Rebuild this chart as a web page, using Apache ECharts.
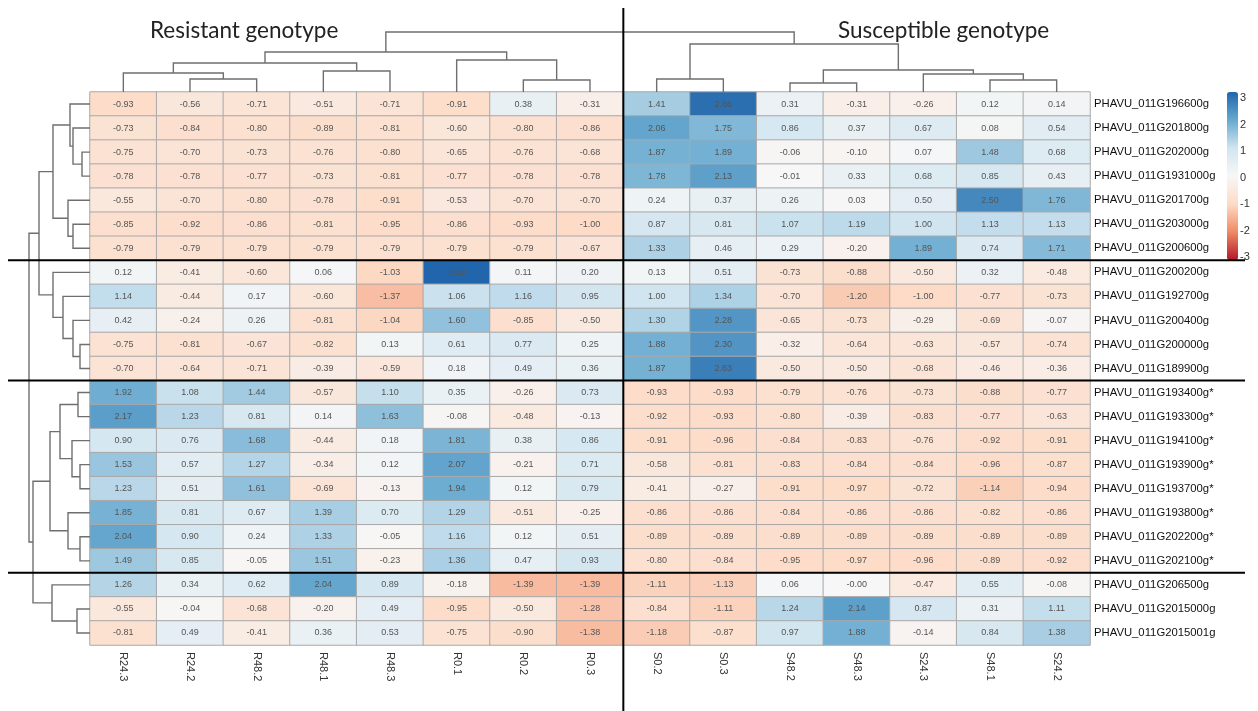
<!doctype html>
<html>
<head>
<meta charset="utf-8">
<title>heatmap</title>
<script src="https://cdn.jsdelivr.net/npm/echarts@6/dist/echarts.min.js"></script>
<style>
    html, body {margin: 0; padding: 0; background: #fff;}
    #main {width: 1258px; height: 711px;}
</style>
</head>
<body>
<div id="main"></div>
<script>
    // samples (columns) in dendrogram order
    var samples = ['R24.3', 'R24.2', 'R48.2', 'R48.1', 'R48.3', 'R0.1', 'R0.2', 'R0.3',
        'S0.2', 'S0.3', 'S48.2', 'S48.3', 'S24.3', 'S48.1', 'S24.2'];

    var genes = ['PHAVU_011G196600g', 'PHAVU_011G201800g', 'PHAVU_011G202000g', 'PHAVU_011G1931000g',
        'PHAVU_011G201700g', 'PHAVU_011G203000g', 'PHAVU_011G200600g',
        'PHAVU_011G200200g', 'PHAVU_011G192700g', 'PHAVU_011G200400g', 'PHAVU_011G200000g', 'PHAVU_011G189900g',
        'PHAVU_011G193400g*', 'PHAVU_011G193300g*', 'PHAVU_011G194100g*', 'PHAVU_011G193900g*',
        'PHAVU_011G193700g*', 'PHAVU_011G193800g*', 'PHAVU_011G202200g*', 'PHAVU_011G202100g*',
        'PHAVU_011G206500g', 'PHAVU_011G2015000g', 'PHAVU_011G2015001g'];

    // z-scores, one row per gene
    var expr = [
        [-0.93, -0.56, -0.71, -0.51, -0.71, -0.91, 0.38, -0.31, 1.41, 2.86, 0.31, -0.31, -0.26, 0.12, 0.14],
        [-0.73, -0.84, -0.80, -0.89, -0.81, -0.60, -0.80, -0.86, 2.06, 1.75, 0.86, 0.37, 0.67, 0.08, 0.54],
        [-0.75, -0.70, -0.73, -0.76, -0.80, -0.65, -0.76, -0.68, 1.87, 1.89, -0.06, -0.10, 0.07, 1.48, 0.68],
        [-0.78, -0.78, -0.77, -0.73, -0.81, -0.77, -0.78, -0.78, 1.78, 2.13, -0.01, 0.33, 0.68, 0.85, 0.43],
        [-0.55, -0.70, -0.80, -0.78, -0.91, -0.53, -0.70, -0.70, 0.24, 0.37, 0.26, 0.03, 0.50, 2.50, 1.76],
        [-0.85, -0.92, -0.86, -0.81, -0.95, -0.86, -0.93, -1.00, 0.87, 0.81, 1.07, 1.19, 1.00, 1.13, 1.13],
        [-0.79, -0.79, -0.79, -0.79, -0.79, -0.79, -0.79, -0.67, 1.33, 0.46, 0.29, -0.20, 1.89, 0.74, 1.71],
        [0.12, -0.41, -0.60, 0.06, -1.03, 3.19, 0.11, 0.20, 0.13, 0.51, -0.73, -0.88, -0.50, 0.32, -0.48],
        [1.14, -0.44, 0.17, -0.60, -1.37, 1.06, 1.16, 0.95, 1.00, 1.34, -0.70, -1.20, -1.00, -0.77, -0.73],
        [0.42, -0.24, 0.26, -0.81, -1.04, 1.60, -0.85, -0.50, 1.30, 2.28, -0.65, -0.73, -0.29, -0.69, -0.07],
        [-0.75, -0.81, -0.67, -0.82, 0.13, 0.61, 0.77, 0.25, 1.88, 2.30, -0.32, -0.64, -0.63, -0.57, -0.74],
        [-0.70, -0.64, -0.71, -0.39, -0.59, 0.18, 0.49, 0.36, 1.87, 2.63, -0.50, -0.50, -0.68, -0.46, -0.36],
        [1.92, 1.08, 1.44, -0.57, 1.10, 0.35, -0.26, 0.73, -0.93, -0.93, -0.79, -0.76, -0.73, -0.88, -0.77],
        [2.17, 1.23, 0.81, 0.14, 1.63, -0.08, -0.48, -0.13, -0.92, -0.93, -0.80, -0.39, -0.83, -0.77, -0.63],
        [0.90, 0.76, 1.68, -0.44, 0.18, 1.81, 0.38, 0.86, -0.91, -0.96, -0.84, -0.83, -0.76, -0.92, -0.91],
        [1.53, 0.57, 1.27, -0.34, 0.12, 2.07, -0.21, 0.71, -0.58, -0.81, -0.83, -0.84, -0.84, -0.96, -0.87],
        [1.23, 0.51, 1.61, -0.69, -0.13, 1.94, 0.12, 0.79, -0.41, -0.27, -0.91, -0.97, -0.72, -1.14, -0.94],
        [1.85, 0.81, 0.67, 1.39, 0.70, 1.29, -0.51, -0.25, -0.86, -0.86, -0.84, -0.86, -0.86, -0.82, -0.86],
        [2.04, 0.90, 0.24, 1.33, -0.05, 1.16, 0.12, 0.51, -0.89, -0.89, -0.89, -0.89, -0.89, -0.89, -0.89],
        [1.49, 0.85, -0.05, 1.51, -0.23, 1.36, 0.47, 0.93, -0.80, -0.84, -0.95, -0.97, -0.96, -0.89, -0.92],
        [1.26, 0.34, 0.62, 2.04, 0.89, -0.18, -1.39, -1.39, -1.11, -1.13, 0.06, -0.00, -0.47, 0.55, -0.08],
        [-0.55, -0.04, -0.68, -0.20, 0.49, -0.95, -0.50, -1.28, -0.84, -1.11, 1.24, 2.14, 0.87, 0.31, 1.11],
        [-0.81, 0.49, -0.41, 0.36, 0.53, -0.75, -0.90, -1.38, -1.18, -0.87, 0.97, 1.88, -0.14, 0.84, 1.38]
    ];

    // dendrograms: [height, left, right], a number is a leaf index
    var colTree = [60,
        [40, [29, [19, 0, [13, 1, 2]], [21, 3, 4]], [32, 5, [12, 6, 7]]],
        [48, [13, 8, 9], [22, [9, 10, 11], [18, 12, [12, 13, 14]]]]];

    var rowTree = [61,
        [51,
            [37, [20, 0, [17, 1, [8, 2, 3]]], [22, 4, [17, 5, 6]]],
            [37, 7, [27, 8, [17, 9, [10, 10, 11]]]]],
        [57,
            [40, [30, [12, 12, 13], [18, 14, [10, 15, 16]]], [22, 17, [10, 18, 19]]],
            [38, 20, [13, 21, 22]]]];

    var scaleTicks = [-3, -2, -1, 0, 1, 2, 3];
    var rowBreaks = [7, 12, 20];
    var colBreaks = [8];

    var heatData = [];
    expr.forEach(function (row, i) {
        row.forEach(function (v, j) {
            heatData.push([j, i, v]);
        });
    });

    function walk(node, segs) {
        if (typeof node === 'number') return {pos: node + 0.5, h: 0};
        var a = walk(node[1], segs), b = walk(node[2], segs);
        segs.push([a.pos, b.pos, node[0], a.h, b.h]);
        return {pos: (a.pos + b.pos) / 2, h: node[0]};
    }
    var colSegs = [], rowSegs = [];
    walk(colTree, colSegs);
    walk(rowTree, rowSegs);

    function dendroItem(horizontal) {
        return function (params, api) {
            var a = api.value(0), b = api.value(1), h = api.value(2), ha = api.value(3), hb = api.value(4);
            var pts;
            if (horizontal) {
                pts = [api.coord([a, ha]), api.coord([a, h]), api.coord([b, h]), api.coord([b, hb])];
            } else {
                pts = [api.coord([ha, a]), api.coord([h, a]), api.coord([h, b]), api.coord([hb, b])];
            }
            return {
                type: 'polyline',
                shape: {points: pts},
                style: {stroke: '#6f6f6f', lineWidth: 1.4, fill: null}
            };
        };
    }

    var myChart = echarts.init(document.getElementById('main'));
    var option = {
        backgroundColor: '#fff',
        animation: false,
        title: [
            {text: 'Resistant genotype', left: 145, top: 14,
                textStyle: {fontFamily: 'Lato', fontSize: 22.5, fontWeight: 'normal', color: '#222'}},
            {text: 'Susceptible genotype', left: 833, top: 14,
                textStyle: {fontFamily: 'Lato', fontSize: 22.5, fontWeight: 'normal', color: '#222'}}
        ],
        grid: [
            {left: 90, top: 92, width: 1000, height: 553},
            {left: 90, top: 30, width: 1000, height: 62},
            {left: 0, top: 92, width: 90, height: 553},
            {left: 90, top: 92, width: 1000, height: 553},
            {left: 1227, top: 98, width: 11, height: 159}
        ],
        xAxis: [
            {type: 'category', gridIndex: 0, data: samples, position: 'bottom',
                axisLine: {show: false}, axisTick: {show: false}, splitLine: {show: false},
                axisLabel: {rotate: -90, fontSize: 11, color: '#333', margin: 7, fontFamily: 'Liberation Sans'}},
            {type: 'value', gridIndex: 1, min: 0, max: 15, show: false},
            {type: 'value', gridIndex: 2, min: 0, max: 90, inverse: true, show: false},
            {type: 'value', gridIndex: 3, min: 0, max: 15, show: false},
            {type: 'value', gridIndex: 4, min: 0, max: 1, show: false}
        ],
        yAxis: [
            {type: 'category', gridIndex: 0, data: genes, inverse: true, position: 'right',
                axisLine: {show: false}, axisTick: {show: false}, splitLine: {show: false},
                axisLabel: {fontSize: 11.3, color: '#111', margin: 4, fontFamily: 'Liberation Sans'}},
            {type: 'value', gridIndex: 1, min: 0, max: 62, show: false},
            {type: 'value', gridIndex: 2, min: 0, max: 23, inverse: true, show: false},
            {type: 'value', gridIndex: 3, min: 0, max: 23, inverse: true, show: false},
            {type: 'value', gridIndex: 4, min: -3, max: 3, interval: 1, position: 'right',
                axisLine: {show: false}, axisTick: {show: false}, splitLine: {show: false},
                axisLabel: {fontSize: 11, color: '#333', margin: 2, fontFamily: 'Liberation Sans',
                    formatter: function (v) { return scaleTicks.indexOf(v) >= 0 ? String(v) : ''; }}}
        ],
        visualMap: {
            type: 'continuous', min: -3, max: 3, seriesIndex: 0, calculable: false,
            orient: 'vertical', left: 1212, top: 77, itemWidth: 11, itemHeight: 168,
            inRange: {color: ['#B2182B', '#EF8A62', '#FDDBC7', '#F7F7F7', '#D1E5F0', '#67A9CF', '#2166AC']}
        },
        series: [
            {
                type: 'heatmap', xAxisIndex: 0, yAxisIndex: 0, data: heatData,
                itemStyle: {borderColor: '#a9a9a9', borderWidth: 1},
                label: {
                    show: true, fontSize: 9, color: '#555', fontFamily: 'Liberation Sans',
                    formatter: function (p) {
                        var v = p.value[2];
                        return (v < 0 || Object.is(v, -0) ? '-' : '') + Math.abs(v).toFixed(2);
                    }
                },
                emphasis: {disabled: true}
            },
            {
                type: 'custom', xAxisIndex: 1, yAxisIndex: 1, data: colSegs,
                renderItem: dendroItem(true), silent: true
            },
            {
                type: 'custom', xAxisIndex: 2, yAxisIndex: 2, data: rowSegs,
                renderItem: dendroItem(false), silent: true
            },
            {
                // black group separators
                type: 'custom', xAxisIndex: 3, yAxisIndex: 3, z: 10, silent: true,
                data: rowBreaks.map(function (r) { return [0, r, 0]; })
                    .concat(colBreaks.map(function (c) { return [c, 0, 1]; })),
                renderItem: function (params, api) {
                    var p = api.coord([api.value(0), api.value(1)]);
                    var shape = api.value(2) === 0
                        ? {x1: 8, y1: p[1], x2: 1245, y2: p[1]}
                        : {x1: p[0], y1: 8, x2: p[0], y2: 711};
                    return {type: 'line', shape: shape, style: {stroke: '#000', lineWidth: 2}};
                }
            }
        ]
    };
    myChart.setOption(option);
</script>
</body>
</html>
